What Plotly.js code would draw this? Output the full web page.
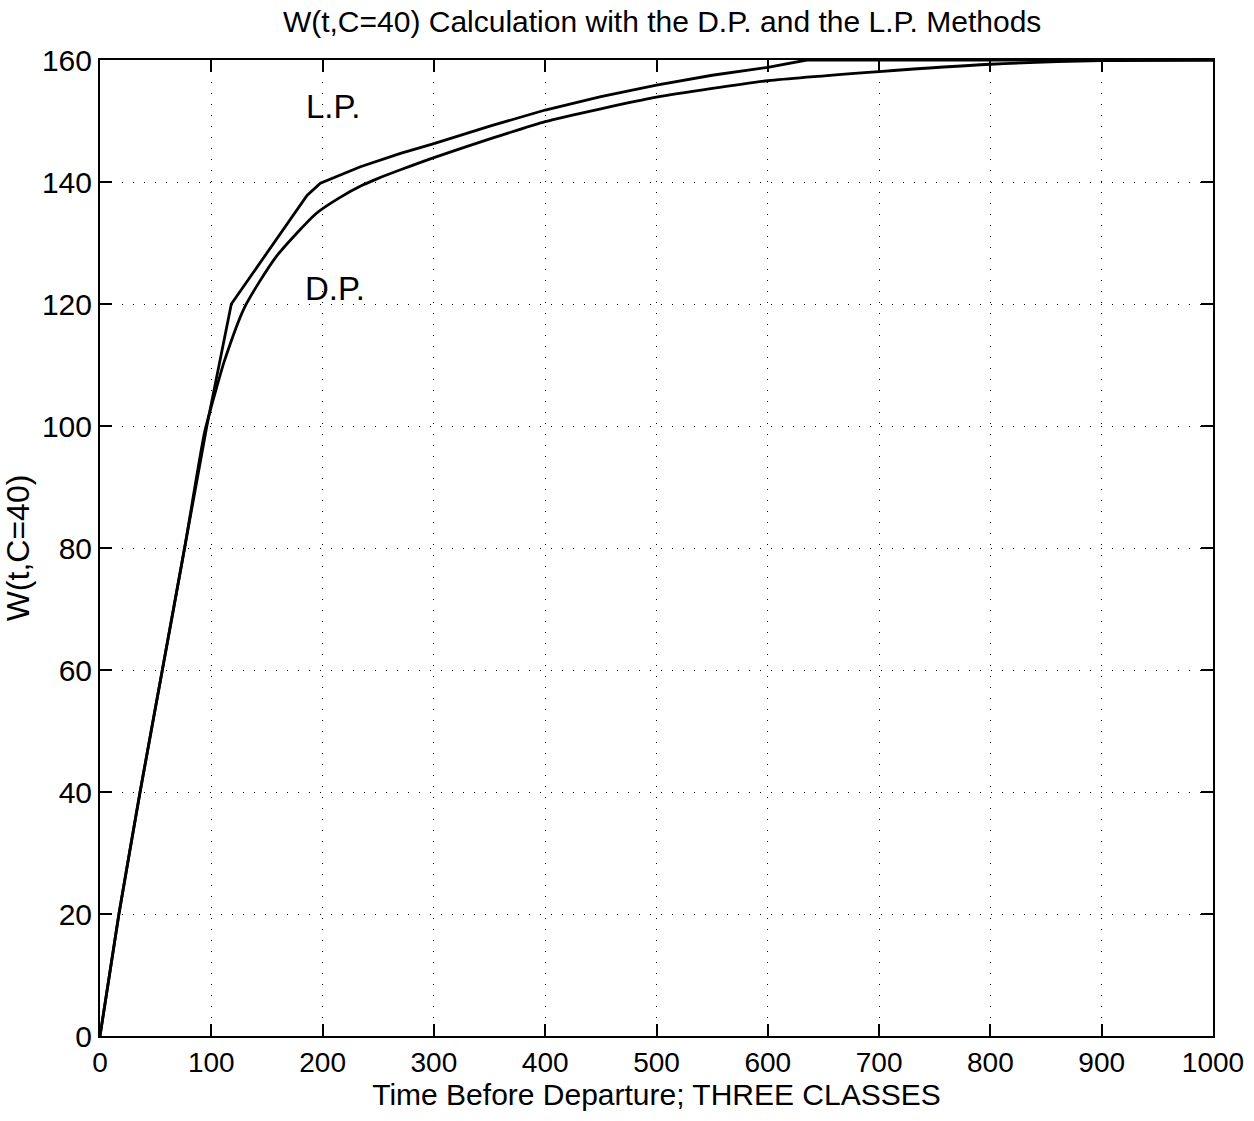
<!DOCTYPE html>
<html>
<head>
<meta charset="utf-8">
<script src="https://cdn.plot.ly/plotly-3.0.1.min.js"></script>
<style>html,body{margin:0;padding:0;background:#fff;}#chart{width:1254px;height:1121px;}</style>
</head>
<body>
<div id="chart"></div>
<script>
// L.P. method curve
const lpTime = [0, 17, 36, 56, 76, 96, 118, 186, 198, 234, 270, 300, 351, 400, 450, 500, 550, 600, 635, 700, 800, 900, 1000];
const lpValue = [0, 20, 40, 60, 80, 100, 120, 137.8, 139.8, 142.5, 144.7, 146.3, 149.2, 151.8, 154.0, 155.9, 157.5, 158.8, 160, 160, 160, 160, 160];
// D.P. method curve
const dpTime = [0, 17, 36, 56, 76, 94, 104, 112, 130, 158, 194, 215, 236, 250, 270, 300, 351, 400, 450, 500, 600, 700, 800, 900, 1000];
const dpValue = [0, 20, 40, 60, 80, 99, 105.8, 110.8, 119.5, 127.7, 134.8, 137.4, 139.5, 140.6, 142.0, 144.0, 147.1, 149.9, 152.0, 153.9, 156.6, 158.1, 159.3, 159.9, 160];
// Curve labels
const labelText = ["L.P.", "D.P."];
const labelX = [209, 211];
const labelY = [152.3, 122.6];

const xTicks = [0, 100, 200, 300, 400, 500, 600, 700, 800, 900, 1000];
const yTicks = [0, 20, 40, 60, 80, 100, 120, 140, 160];

const FONT = "Liberation Sans, Arial, Helvetica, sans-serif";

const traces = [
  {x: lpTime, y: lpValue, type: "scatter", mode: "lines", line: {color: "#000", width: 2.8}, name: "L.P."},
  {x: dpTime, y: dpValue, type: "scatter", mode: "lines", line: {color: "#000", width: 2.8, shape: "spline", smoothing: 0.6}, name: "D.P."}
];

const axisCommon = {
  showline: true, linecolor: "#000", linewidth: 2, mirror: "ticks",
  ticks: "inside", ticklen: 12, tickwidth: 2, tickcolor: "#000",
  showgrid: true, gridcolor: "#000", gridwidth: 1, griddash: "1px,10px",
  zeroline: false, automargin: false
};

const layout = {
  width: 1254, height: 1121,
  margin: {l: 100, r: 41, t: 60, b: 85},
  paper_bgcolor: "#fff", plot_bgcolor: "#fff",
  showlegend: false,
  font: {family: FONT, color: "#000"},
  title: {text: "W(t,C=40) Calculation with the D.P. and the L.P. Methods", font: {family: FONT, size: 30, color: "#000"}, x: 0.528, xanchor: "center", y: 0.981, yanchor: "middle"},
  xaxis: Object.assign({}, axisCommon, {
    range: [0, 1000], tickvals: xTicks, ticktext: xTicks.map(String),
    tickfont: {family: FONT, size: 28, color: "#000"},
    title: {text: "Time Before Departure; THREE CLASSES", font: {family: FONT, size: 30, color: "#000"}, standoff: 6}
  }),
  yaxis: Object.assign({}, axisCommon, {
    range: [0, 160], tickvals: yTicks, ticktext: yTicks.map(String),
    tickfont: {family: FONT, size: 30, color: "#000"},
    title: {text: "W(t,C=40)", font: {family: FONT, size: 32, color: "#000"}, standoff: 3}
  }),
  annotations: labelText.map((t, i) => ({
    x: labelX[i], y: labelY[i], xref: "x", yref: "y", text: t, showarrow: false,
    font: {family: FONT, size: 33, color: "#000"}
  }))
};

Plotly.newPlot("chart", traces, layout, {displayModeBar: false, staticPlot: true});
</script>
</body>
</html>
